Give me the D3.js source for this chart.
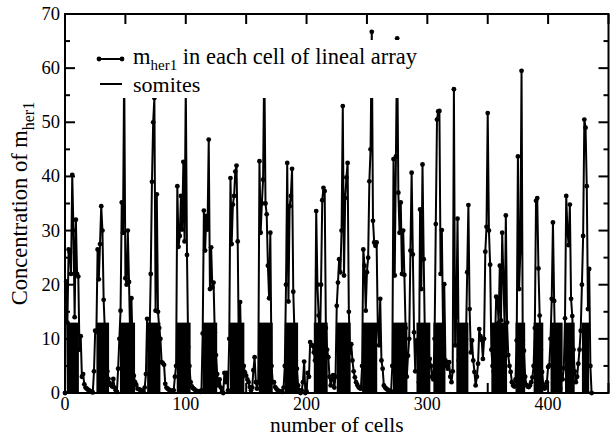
<!DOCTYPE html>
<html><head><meta charset="utf-8">
<script src="https://cdn.jsdelivr.net/npm/d3@7/dist/d3.min.js"></script>
<style>body{margin:0;background:#fff}svg{display:block}</style>
</head><body><svg id="c" width="611" height="436" font-family="'Liberation Serif','Times New Roman','DejaVu Serif',serif"></svg>
<script>
// m_her1 concentration per cell (cell index = array index)
const mHer1 = [
0,20.6,13,26.5,26,22,40.3,30,14,32,22,21.5,8,10.5,3,3.5,1.6,1,0.8,0.6,
0.5,0.3,0.2,0.1,4,11.5,11.3,26.5,21,27.5,34.5,30,17.2,11.5,11.5,4,2.6,1.8,1.5,1.2,
2.6,1,0.5,0.2,4.5,10,15.2,35.2,29.6,60,21.2,20,30,20.5,10,17.5,8.2,3.2,2,1.5,
0.8,0.7,0.6,0.5,0.4,0.3,1,3.5,13.7,8,10,22,39,50,54.5,15.2,36.7,15,12,10,
5.7,5.5,5.2,1.7,1,0.8,0.6,0.5,0.4,0.4,0.5,3,5,38.2,27,29,36.4,30.2,42.7,28,
57,25.5,8.5,5,2,1.2,0.9,0.7,0.5,0.4,0.3,0.3,0.2,0.5,11,33.7,26.3,32.7,30.2,46.8,
19.2,26.9,19.5,20.4,11.2,7,3.5,1.4,2.5,1,0.2,0,3.7,2,3.7,0.5,10,39.7,27.5,34.8,
36.4,40.9,42,28,6,16.8,6.1,3,5,3.8,3.2,2.5,2,1.1,0.5,1,4.2,6.6,2,0.8,
2,42.8,29.6,35,39.4,62,35,33,23.5,17.5,29.6,5,2,2,1.1,0.8,0.5,0.4,0.3,0.3,
0.2,1,5,20,42.5,16.9,34.5,36.4,41.4,18.7,11.2,6,4.5,1.4,0.5,0,0.5,2,5.8,0,
0.3,3.7,3,9.4,8.8,8.8,7.5,6,33.6,20,14.3,8.2,20,35.6,37.9,37.3,12,8,6.6,3,
1.4,2.5,3.3,1,3,16.1,20.4,24.7,22.3,30,53,21.7,36,39.8,42.5,15,7.5,9,6,4,
2.9,2,1.5,1.1,0.9,0.8,5,26.5,23.5,15.2,22.3,25,39.1,45,66.7,31.8,27.8,27.2,27.8,12,
8.8,17.4,6,4.5,1.4,1,0.8,0.6,0.5,0.4,0.3,5,43.2,21.7,43.7,65.5,37,29.6,35.2,22,
30,21.8,12,3,6.9,10,26.3,40.7,25.6,11.2,4,9.7,9.4,2,33.9,19.2,42.2,24.7,10,11.2,
2,3,6.3,5,3,2.5,10,31.2,50.5,52,52.1,22,30.1,12,20.1,6,5,4.5,5.7,3,
2,4,56.1,8.8,14,32.2,6,3,1.4,1.7,3,5,10,22.3,34.7,15.5,7.5,9.7,6,3.9,
1.4,3,5.4,11.8,10.5,9.8,6.3,10,26.1,30.7,51.7,30,23.7,8,5,4,9,17.8,17.5,13,
23.5,13.4,29.6,21,12,32.8,13,7,5,3.9,2,1.4,1.2,2.5,9.7,43.7,19.2,26,59.5,9.7,
7.8,3,1.5,1.2,1.1,1.4,2,2.9,5,12,35.5,36,23,14.3,8,3.9,1.5,0.8,1,2,
4.8,5.1,10,17.4,31.5,17,6,3,1.4,1,0.8,3.3,2.5,4.6,13.8,36.4,30,27.3,34.8,17.4,
14.2,8,4,2,3,5.4,8,11.5,20,29,50.5,49,38.2,15.5,22.9,5,0
];
// somite blocks: start cell, end cell, level
const somiteStart = [1.5,26,45.5,68,92.5,114,136.5,160.5,182,206,225,246,271.5,291,305,324,353,373,388,402,414,428];
const somiteEnd   = [11.5,36.5,58,79,104,126,148.5,172,193,217.5,236.5,258.5,283.5,302.5,315,334,366,381,396,412,422,434];
const somiteLevel = 13;
const xTicks = [0,100,200,300,400];
const yTicks = [0,10,20,30,40,50,60,70];
const legendLabels = ["in each cell of lineal array","somites"];

const svg = d3.select("#c");
const L=65,R=608.5,T=14,B=393;
const x = d3.scaleLinear().domain([0,450]).range([L,R]);
const y = d3.scaleLinear().domain([0,70]).range([B,T]);

const plot = svg.append("g");
// somites
plot.selectAll("rect.som").data(somiteStart.map((s,i)=>[s,somiteEnd[i]])).join("rect")
  .attr("x",d=>x(d[0])).attr("width",d=>x(d[1])-x(d[0]))
  .attr("y",y(somiteLevel)).attr("height",y(0)-y(somiteLevel)).attr("fill","#000");
// m_her1 line
const pts = mHer1.map((v,i)=>[i,v]);
plot.append("path").datum(pts)
  .attr("d",d3.line().x(d=>x(d[0])).y(d=>y(d[1])))
  .attr("fill","none").attr("stroke","#000").attr("stroke-width",2).attr("stroke-linejoin","round");
plot.selectAll("circle.p").data(pts).join("circle")
  .attr("cx",d=>x(d[0])).attr("cy",d=>y(d[1])).attr("r",2.4).attr("fill","#000");

// legend box
const lg = svg.append("g");
lg.append("rect").attr("x",93).attr("y",40).attr("width",338).attr("height",58).attr("fill","#fff");
lg.append("line").attr("x1",99).attr("x2",122).attr("y1",59).attr("y2",59).attr("stroke","#000").attr("stroke-width",2);
lg.selectAll("circle").data([99,122]).join("circle").attr("cx",d=>d).attr("cy",59).attr("r",2.4).attr("fill","#000");
const t1 = lg.append("text").attr("x",133).attr("y",64).attr("font-size",22.5);
t1.append("tspan").text("m");
t1.append("tspan").attr("dy",6).attr("font-size",15).text("her1");
t1.append("tspan").attr("dy",-6).text(" "+legendLabels[0]);
lg.append("line").attr("x1",100).attr("x2",122).attr("y1",84).attr("y2",84).attr("stroke","#000").attr("stroke-width",2);
lg.append("text").attr("x",133).attr("y",92).attr("font-size",22).text(legendLabels[1]);

// frame and ticks
const ax = svg.append("g").attr("stroke","#000").attr("stroke-width",2);
ax.append("rect").attr("x",L).attr("y",T).attr("width",R-L).attr("height",B-T).attr("fill","none");
const xt = d3.range(0,451,50);
xt.forEach(v=>{
  ax.append("line").attr("x1",x(v)).attr("x2",x(v)).attr("y1",B).attr("y2",B-10);
  ax.append("line").attr("x1",x(v)).attr("x2",x(v)).attr("y1",T).attr("y2",T+10);
});
const yt = d3.range(0,71,5);
yt.forEach(v=>{
  const len = v%10===0?10:5;
  ax.append("line").attr("x1",L).attr("x2",L+len).attr("y1",y(v)).attr("y2",y(v));
  ax.append("line").attr("x1",R).attr("x2",R-len).attr("y1",y(v)).attr("y2",y(v));
});
svg.selectAll("text.xt").data(xTicks).join("text").attr("class","xt")
  .attr("x",d=>x(d)).attr("y",409.5).attr("text-anchor","middle").attr("font-size",18).text(d=>d);
svg.selectAll("text.yt").data(yTicks).join("text").attr("class","yt")
  .attr("x",60).attr("y",d=>y(d)+6).attr("text-anchor","end").attr("font-size",18.5).text(d=>d);

svg.append("text").attr("x",(L+R)/2).attr("y",431.5).attr("text-anchor","middle").attr("font-size",21.5).text("number of cells");
const yl = svg.append("text").attr("transform",`translate(27,${(T+B)/2}) rotate(-90)`).attr("text-anchor","middle").attr("font-size",22.5);
yl.append("tspan").text("Concentration of m");
yl.append("tspan").attr("dy",7).attr("font-size",16).text("her1");
</script></body></html>
